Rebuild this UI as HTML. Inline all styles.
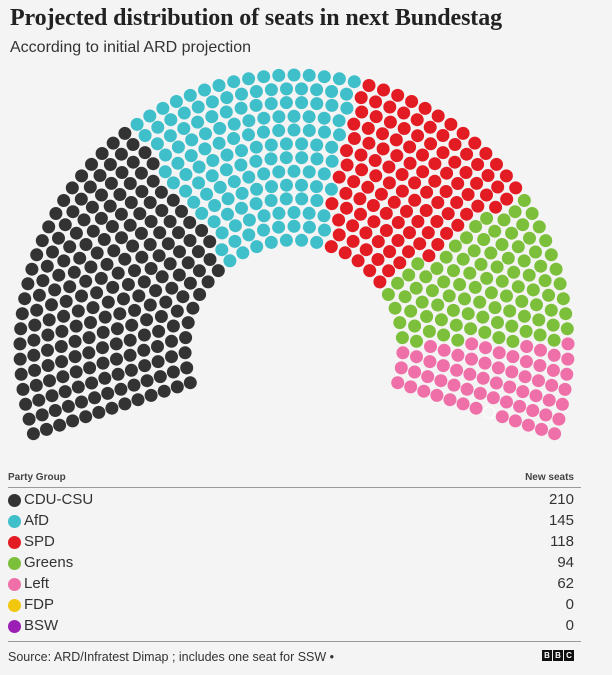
<!DOCTYPE html>
<html><head><meta charset="utf-8">
<style>
html,body{margin:0;padding:0;}
body{width:612px;height:675px;background:#f4f4f4;position:relative;overflow:hidden;font-family:"Liberation Sans",sans-serif;color:#222;}
.t{position:absolute;left:10px;top:5px;font-family:"Liberation Serif",serif;font-weight:bold;font-size:24px;color:#222;letter-spacing:-0.1px}
.s{position:absolute;left:10px;top:39px;font-size:16px;color:#333}
.hdr{position:absolute;top:472px;font-size:10px;font-weight:bold;color:#444}
.line{position:absolute;left:8px;width:573px;height:1px;background:#999}
.row{position:absolute;left:8px;width:566px;height:20px;font-size:15px;color:#333}
.row .d{position:absolute;left:0;top:3px;width:13px;height:13px;border-radius:50%}
.row .n{position:absolute;left:16px;top:0}
.row .v{position:absolute;right:0;top:0}
.src{position:absolute;left:8px;top:650px;font-size:12.5px;color:#333}
.bbc{position:absolute;top:650px;width:10px;height:11px;background:#111;color:#fff;font-size:8px;font-weight:bold;text-align:center;line-height:11px}
</style></head><body>
<div class="t">Projected distribution of seats in next Bundestag</div>
<div class="s">According to initial ARD projection</div>
<svg id="p" width="612" height="460" style="position:absolute;left:0;top:0"></svg>
<div class="hdr" style="left:8px">Party Group</div>
<div class="hdr" style="right:38px">New seats</div>
<div class="line" style="top:487px"></div>
<div class="row" style="top:491px"><span class="d" style="background:#333"></span><span class="n">CDU-CSU</span><span class="v">210</span></div>
<div class="row" style="top:512px"><span class="d" style="background:#3fbfca"></span><span class="n">AfD</span><span class="v">145</span></div>
<div class="row" style="top:533px"><span class="d" style="background:#e31b23"></span><span class="n">SPD</span><span class="v">118</span></div>
<div class="row" style="top:554px"><span class="d" style="background:#7cbf3a"></span><span class="n">Greens</span><span class="v">94</span></div>
<div class="row" style="top:575px"><span class="d" style="background:#ef6fa8"></span><span class="n">Left</span><span class="v">62</span></div>
<div class="row" style="top:596px"><span class="d" style="background:#f2c80f"></span><span class="n">FDP</span><span class="v">0</span></div>
<div class="row" style="top:617px"><span class="d" style="background:#9b1fb5"></span><span class="n">BSW</span><span class="v">0</span></div>
<div class="line" style="top:641px"></div>
<div class="src">Source: ARD/Infratest Dimap ; includes one seat for SSW •</div>
<div class="bbc" style="left:542px">B</div><div class="bbc" style="left:553px">B</div><div class="bbc" style="left:564px">C</div>
<script>
(function(){
var cx=294,cy=349,r0=109,r1=274,rows=13,total=630;
var a0=198*Math.PI/180,a1=-18*Math.PI/180,span=a0-a1;
var rs=[],sum=0;for(var i=0;i<rows;i++){var r=r0+(r1-r0)*i/(rows-1);rs.push(r);sum+=r;}
var counts=[],acc=0;for(i=0;i<rows;i++){var c=Math.round(total*rs[i]/sum);counts.push(c);acc+=c;}
counts[rows-1]+=total-acc;
var pts=[];
for(i=0;i<rows;i++){var n=counts[i];for(var j=0;j<n;j++){var a=a0-span*j/(n-1);pts.push({a:a,x:cx+rs[i]*Math.cos(a),y:cy-rs[i]*Math.sin(a)});}}
pts.sort(function(p,q){return q.a-p.a;});
var parties=[[210,"#333333"],[145,"#3fbfca"],[118,"#e31b23"],[94,"#7cbf3a"],[62,"#ef6fa8"],[1,"none"]];
var s="",k=0;
parties.forEach(function(p){for(var m=0;m<p[0];m++){var q=pts[k++];if(!q)return;
if(p[1]=="none")s+='<circle cx="'+q.x.toFixed(1)+'" cy="'+q.y.toFixed(1)+'" r="5.8" fill="#f4f4f4" stroke="#fff" stroke-width="1"/>';
else s+='<circle cx="'+q.x.toFixed(1)+'" cy="'+q.y.toFixed(1)+'" r="6.5" fill="'+p[1]+'"/>';}});
document.getElementById("p").innerHTML=s;
})();
</script>
</body></html>
